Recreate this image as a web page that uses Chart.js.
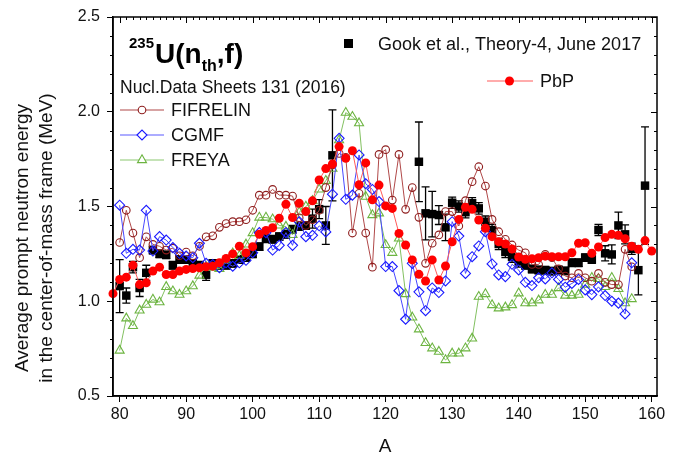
<!DOCTYPE html>
<html>
<head>
<meta charset="utf-8">
<script src="https://cdn.jsdelivr.net/npm/chart.js@4.4.0/dist/chart.umd.min.js"></script>
<style>
  html, body { margin: 0; padding: 0; background: #fff; }
  #wrap { width: 676px; height: 459px; }
</style>
</head>
<body>
<div id="wrap"><canvas id="chart"></canvas></div>
<script>
// tick labels
const xTicks = [80, 90, 100, 110, 120, 130, 140, 150, 160];
const yTicks = [0.5, 1.0, 1.5, 2.0, 2.5];

// PbP model
const pbpMass = [79,80,81,82,83,84,85,86,87,88,89,90,91,92,93,94,95,96,97,98,99,100,
  101,102,103,104,105,106,107,108,109,110,111,112,113,114,115,116,117,118,119,120,
  121,122,123,124,125,126,127,128,129,130,131,132,133,134,135,136,137,138,139,140,
  141,142,143,144,145,146,147,148,149,150,151,152,153,154,155,156,157,158,159,160];
const pbpEnergy = [1.04,1.115,1.127,1.19,1.088,1.097,1.159,1.18,1.141,1.141,1.159,1.168,1.173,1.177,1.182,1.185,1.203,1.226,1.25,1.29,1.255,1.288,
  1.353,1.374,1.388,1.438,1.512,1.442,1.517,1.473,1.53,1.64,1.70,1.724,1.816,1.754,1.794,1.615,1.73,1.535,1.613,1.503,
  1.49,1.358,1.297,1.218,1.142,1.107,1.218,1.112,1.186,1.314,1.432,1.496,1.485,1.429,1.385,1.341,1.314,1.302,1.276,1.233,
  1.221,1.224,1.23,1.238,1.235,1.235,1.235,1.256,1.306,1.309,1.253,1.286,1.336,1.353,1.348,1.33,1.29,1.274,1.32,1.265];

// FIFRELIN
const fifMass = [80,81,82,83,84,85,86,87,88,89,90,91,92,93,94,95,96,97,98,99,100,
  101,102,103,104,105,106,107,108,109,110,111,112,113,114,115,116,117,118,119,120,
  121,122,123,124,125,126,127,128,129,130,131,132,133,134,135,136,137,138,139,140,
  141,142,143,144,145,146,147,148,149,150,151,152,153,154,155,156,157];
const fifEnergy = [1.31,1.48,1.36,1.23,1.34,1.30,1.29,1.27,1.28,1.24,1.26,1.24,1.29,1.34,1.345,1.39,1.41,1.42,1.42,1.43,1.48,
  1.56,1.56,1.59,1.56,1.56,1.555,1.44,1.40,1.43,1.48,1.60,1.72,1.78,1.76,1.36,1.57,1.36,1.18,1.775,1.80,
  1.534,1.775,1.485,1.60,1.443,1.20,1.306,1.35,1.473,1.473,1.397,1.531,1.631,1.71,1.608,1.432,1.367,1.327,1.297,1.27,
  1.256,1.194,1.194,1.247,1.23,1.171,1.133,1.124,1.147,1.124,1.106,1.147,1.10,1.088,1.088,1.274,1.182];

// CGMF
const cgmfMass = fifMass;
const cgmfEnergy = [1.507,1.253,1.274,1.27,1.48,1.265,1.341,1.323,1.283,1.253,1.239,1.23,1.306,1.20,1.194,1.177,1.203,1.185,1.203,1.216,1.256,
  1.362,1.362,1.27,1.295,1.362,1.295,1.419,1.341,1.348,1.398,1.366,1.565,1.86,1.538,1.56,1.772,1.62,1.59,1.526,1.183,
  1.183,1.056,0.905,1.20,1.05,0.95,1.07,1.046,1.107,1.42,1.344,1.147,1.235,1.292,1.367,1.197,1.139,1.13,1.195,1.165,
  1.10,1.083,1.124,1.118,1.15,1.115,1.074,1.094,1.115,1.06,1.035,1.076,1.03,1.0,0.99,0.933,1.203];

// FREYA
const freyaMass = fifMass;
const freyaEnergy = [0.74,0.91,0.87,0.952,0.982,1.009,0.995,1.076,1.053,1.035,1.053,1.08,1.136,1.182,1.177,1.171,1.217,1.253,1.24,1.30,1.36,
  1.442,1.442,1.433,1.40,1.394,1.35,1.47,1.50,1.53,1.59,1.636,1.70,1.85,1.995,1.974,1.94,1.552,1.455,1.464,1.297,
  1.256,1.332,1.038,0.915,0.852,0.78,0.752,0.734,0.69,0.725,0.725,0.752,0.804,1.024,1.038,0.98,0.963,0.968,0.98,1.042,
  0.99,0.99,1.005,1.035,1.035,1.07,1.03,1.03,1.035,1.088,1.124,1.118,1.076,1.124,1.065,0.99,1.012];

// Gook et al. experiment
const gookMass = [80,81,82,83,84,85,86,87,88,89,90,91,92,93,94,95,96,97,98,99,100,
  101,102,103,104,105,106,107,108,109,110,111,112,
  125,126,127,128,129,130,131,132,133,134,135,136,137,138,139,140,
  141,142,143,144,145,146,147,148,149,150,151,152,153,154,155,156,157,158,159];
const gookEnergy = [1.08,1.03,1.18,1.07,1.15,1.27,1.25,1.245,1.19,1.22,1.22,1.20,1.19,1.14,1.20,1.19,1.19,1.20,1.22,1.23,1.25,
  1.288,1.33,1.327,1.341,1.353,1.38,1.394,1.40,1.436,1.486,1.40,1.77,
  1.736,1.464,1.46,1.455,1.39,1.52,1.50,1.47,1.517,1.49,1.42,1.376,1.302,1.26,1.235,1.21,
  1.19,1.17,1.165,1.164,1.159,1.165,1.16,1.203,1.203,1.23,1.22,1.376,1.253,1.247,1.40,1.353,1.277,1.164,1.61];
const gookError = [0.14,0.04,0.03,0.045,0.04,0.02,0.02,0.02,0.02,0.02,0.02,0.02,0.02,0.03,0.02,0.02,0.02,0.02,0.02,0.02,0.02,
  0.02,0.02,0.02,0.02,0.02,0.02,0.02,0.02,0.05,0.05,0.10,0.24,
  0.21,0.14,0.12,0.05,0.07,0.03,0.03,0.03,0.03,0.03,0.03,0.03,0.03,0.03,0.03,0.03,
  0.02,0.02,0.02,0.02,0.02,0.02,0.02,0.02,0.02,0.02,0.02,0.03,0.04,0.05,0.07,0.05,0.03,0.13,0.31];

const FONT = "'Liberation Sans', Arial, Helvetica, sans-serif";

function pts(xs, ys) {
  return xs.map((a, i) => ({ x: a, y: ys[i] }));
}

// error bars for the experiment
const errorBars = {
  id: 'errorBars',
  beforeDatasetsDraw(chart) {
    const { ctx, scales: { x, y } } = chart;
    ctx.save();
    ctx.strokeStyle = '#000';
    ctx.lineWidth = 1.3;
    gookMass.forEach((a, i) => {
      const px = x.getPixelForValue(a);
      const top = y.getPixelForValue(gookEnergy[i] + gookError[i]);
      const bot = y.getPixelForValue(gookEnergy[i] - gookError[i]);
      ctx.beginPath();
      ctx.moveTo(px, top); ctx.lineTo(px, bot);
      ctx.moveTo(px - 4, top); ctx.lineTo(px + 4, top);
      ctx.moveTo(px - 4, bot); ctx.lineTo(px + 4, bot);
      ctx.stroke();
    });
    ctx.restore();
  }
};

// frame, minor ticks, mirrored ticks, titles and legend texts
const decorations = {
  id: 'decorations',
  afterDraw(chart) {
    const { ctx, chartArea: a, scales: { x, y } } = chart;
    ctx.save();
    ctx.strokeStyle = '#000';
    ctx.lineWidth = 1.5;
    ctx.strokeRect(a.left, a.top, a.right - a.left, a.bottom - a.top);

    ctx.lineWidth = 1;
    ctx.beginPath();
    for (let v = 80; v <= 160; v++) {
      const px = Math.round(x.getPixelForValue(v)) + 0.5;
      const major = v % 10 === 0;
      if (!major) { ctx.moveTo(px, a.bottom); ctx.lineTo(px, a.bottom + 3); }
      ctx.moveTo(px, a.top); ctx.lineTo(px, a.top + (major ? 6 : 3));
    }
    for (let k = 5; k <= 25; k++) {
      const v = k / 10;
      const py = Math.round(y.getPixelForValue(v)) + 0.5;
      const major = k % 5 === 0;
      if (!major) { ctx.moveTo(a.left, py); ctx.lineTo(a.left - 3, py); }
      ctx.moveTo(a.right, py); ctx.lineTo(a.right - (major ? 6 : 3), py);
    }
    ctx.stroke();

    ctx.fillStyle = '#111';
    // axis titles
    ctx.font = '19px ' + FONT;
    ctx.textAlign = 'center';
    ctx.textBaseline = 'middle';
    ctx.save();
    ctx.translate(23, 238);
    ctx.rotate(-Math.PI / 2);
    ctx.fillText('Average prompt neutron energy', 0, 0);
    ctx.fillText('in the center-of-mass frame (MeV)', 0, 24);
    ctx.restore();
    ctx.textBaseline = 'alphabetic';
    ctx.fillText('A', (a.left + a.right) / 2, 452);

    // reaction label
    ctx.textAlign = 'left';
    ctx.fillStyle = '#000';
    let cx = 129;
    ctx.font = 'bold 15px ' + FONT;
    ctx.fillText('235', cx, 48);
    cx += ctx.measureText('235').width + 1;
    ctx.font = 'bold 28px ' + FONT;
    ctx.fillText('U(n', cx, 63);
    cx += ctx.measureText('U(n').width;
    ctx.font = 'bold 16px ' + FONT;
    ctx.fillText('th', cx, 71);
    cx += ctx.measureText('th').width;
    ctx.font = 'bold 28px ' + FONT;
    ctx.fillText(',f)', cx, 63);

    ctx.fillStyle = '#111';
    ctx.font = '17.5px ' + FONT;
    ctx.fillText('Nucl.Data Sheets 131 (2016)', 120, 93);

    // model legend
    const rows = [
      { label: 'FIFRELIN', y: 110, line: '#b04848', ds: 1 },
      { label: 'CGMF', y: 135, line: '#5a5aff', ds: 2 },
      { label: 'FREYA', y: 160, line: '#8cc870', ds: 3 }
    ];
    ctx.textBaseline = 'middle';
    ctx.font = '18px ' + FONT;
    rows.forEach(r => {
      ctx.strokeStyle = r.line;
      ctx.lineWidth = 1.2;
      ctx.beginPath();
      ctx.moveTo(120, r.y); ctx.lineTo(164, r.y);
      ctx.stroke();
      const o = chart.data.datasets[r.ds];
      ctx.fillStyle = '#fff';
      ctx.strokeStyle = o.pointBorderColor;
      ctx.lineWidth = o.pointBorderWidth;
      Chart.helpers.drawPoint(ctx, { pointStyle: o.pointStyle, radius: o.pointRadius, borderWidth: o.pointBorderWidth, rotation: 0 }, 142, r.y);
      ctx.fillStyle = '#111';
      ctx.fillText(r.label, 171, r.y + 1);
    });

    // experiment legend
    ctx.fillStyle = '#000';
    ctx.fillRect(344, 39, 9, 9);
    ctx.fillStyle = '#111';
    ctx.fillText('Gook et al., Theory-4, June 2017', 378, 45);

    // PbP legend
    ctx.strokeStyle = '#ff5a5a';
    ctx.lineWidth = 1.2;
    ctx.beginPath();
    ctx.moveTo(487, 81); ctx.lineTo(533, 81);
    ctx.stroke();
    ctx.fillStyle = '#ff0000';
    ctx.beginPath();
    ctx.arc(509.5, 81, 4.5, 0, Math.PI * 2);
    ctx.fill();
    ctx.fillStyle = '#111';
    ctx.fillText('PbP', 540, 82);
    ctx.restore();
  }
};

const ctx = document.getElementById('chart').getContext('2d');
const chart = new Chart(ctx, {
  type: 'scatter',
  data: {
    datasets: [
      {
        label: 'PbP',
        data: pts(pbpMass, pbpEnergy),
        showLine: true,
        borderColor: '#ff5a5a',
        borderWidth: 1,
        pointStyle: 'circle',
        pointRadius: 4.5,
        pointBackgroundColor: '#ff0000',
        pointBorderColor: '#ff0000',
        pointBorderWidth: 0,
        order: 1,
        clip: 8
      },
      {
        label: 'FIFRELIN',
        data: pts(fifMass, fifEnergy),
        showLine: true,
        borderColor: '#b04848',
        borderWidth: 1,
        pointStyle: 'circle',
        pointRadius: 3.8,
        pointBackgroundColor: 'rgba(255,255,255,0)',
        pointBorderColor: '#8e1d1d',
        pointBorderWidth: 1.1,
        order: 3,
        clip: 8
      },
      {
        label: 'CGMF',
        data: pts(cgmfMass, cgmfEnergy),
        showLine: true,
        borderColor: '#4848ff',
        borderWidth: 1,
        pointStyle: 'rectRot',
        pointRadius: 5,
        pointBackgroundColor: 'rgba(255,255,255,0)',
        pointBorderColor: '#1a1aff',
        pointBorderWidth: 1.1,
        order: 2,
        clip: 8
      },
      {
        label: 'FREYA',
        data: pts(freyaMass, freyaEnergy),
        showLine: true,
        borderColor: '#82c060',
        borderWidth: 1,
        pointStyle: 'triangle',
        pointRadius: 5.2,
        pointBackgroundColor: 'rgba(255,255,255,0)',
        pointBorderColor: '#6cb440',
        pointBorderWidth: 1.1,
        order: 4,
        clip: 8
      },
      {
        label: 'Gook et al., Theory-4, June 2017',
        data: pts(gookMass, gookEnergy),
        showLine: false,
        pointStyle: 'rect',
        pointRadius: 6,
        pointBackgroundColor: '#000',
        pointBorderColor: '#000',
        pointBorderWidth: 0,
        order: 5,
        clip: 8
      }
    ]
  },
  options: {
    responsive: true,
    maintainAspectRatio: false,
    animation: false,
    layout: { padding: { top: 17, right: 19, left: 0, bottom: 0 } },
    plugins: {
      legend: { display: false },
      tooltip: { enabled: false }
    },
    scales: {
      x: {
        type: 'linear',
        min: 79,
        max: 160.8,
        afterBuildTicks: s => { s.ticks = xTicks.map(v => ({ value: v })); },
        afterFit: s => { s.height = 63; },
        grid: { display: true, drawOnChartArea: false, drawTicks: true, tickLength: 6, color: '#000', lineWidth: 1 },
        border: { display: true, color: '#000', width: 1.5 },
        ticks: { color: '#111', font: { family: FONT, size: 16 }, padding: 3, maxRotation: 0 }
      },
      y: {
        type: 'linear',
        min: 0.5,
        max: 2.5,
        afterBuildTicks: s => { s.ticks = yTicks.map(v => ({ value: v })); },
        afterFit: s => { s.width = 113; },
        grid: { display: true, drawOnChartArea: false, drawTicks: true, tickLength: 6, color: '#000', lineWidth: 1 },
        border: { display: true, color: '#000', width: 1.5 },
        ticks: { color: '#111', font: { family: FONT, size: 16 }, padding: 7, callback: v => v.toFixed(1) }
      }
    }
  },
  plugins: [errorBars, decorations]
});
</script>
</body>
</html>
